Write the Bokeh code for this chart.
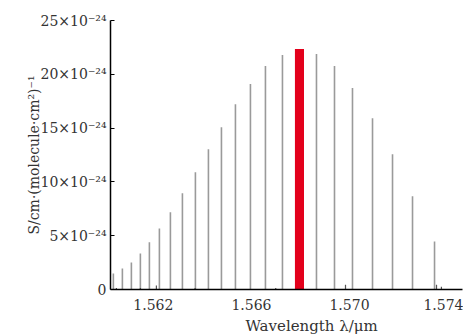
from bokeh.plotting import figure
from bokeh.models import Range1d, FixedTicker, NumeralTickFormatter, Title
from bokeh.embed import file_html
from bokeh.resources import INLINE

# Line positions (um) and intensities (x 1e-24 cm/molecule)
wavelength = [1.560367, 1.560735, 1.561102, 1.561469, 1.561837, 1.562245,
              1.562694, 1.563184, 1.563714, 1.564245, 1.564776, 1.565347,
              1.565959, 1.566571, 1.567265, 1.568653, 1.569388, 1.570122,
              1.570939, 1.571755, 1.572571, 1.573469]
intensity = [1.49, 1.96, 2.51, 3.35, 4.38, 5.68, 7.17, 8.94, 10.89, 13.04,
             15.08, 17.22, 19.09, 20.76, 21.79, 21.88, 20.76, 18.72, 15.92,
             12.57, 8.66, 4.47]
weak_wavelength = [1.560490, 1.561470, 1.562122, 1.563700, 1.566990, 1.569837, 1.573550, 1.573750]
weak_intensity = [0.15, 0.15, 0.38, 0.15, 0.15, 0.45, 0.45, 0.25]
selected_wavelength = [1.567959]
selected_intensity = [22.35]

y_ticks = [0, 5, 10, 15, 20, 25]
y_labels = ["0", "5×10⁻²⁴", "10×10⁻²⁴", "15×10⁻²⁴", "20×10⁻²⁴", "25×10⁻²⁴"]
x_ticks = [1.562, 1.566, 1.570, 1.574]

FONT = "DejaVu Serif"
TXT = "#333333"

p = figure(width=463, height=336, output_backend="svg", toolbar_location=None,
           x_range=Range1d(1.56025, 1.57461), y_range=Range1d(0, 25),
           min_border_left=110, min_border_right=1, min_border_top=20, min_border_bottom=0)
p.outline_line_color = None
p.xgrid.visible = False
p.ygrid.visible = False

p.segment(x0=wavelength, y0=[0] * len(wavelength), x1=wavelength, y1=intensity,
          line_color="#9a9a9a", line_width=1.6)
p.segment(x0=weak_wavelength, y0=[0] * len(weak_wavelength), x1=weak_wavelength, y1=weak_intensity,
          line_color="#555555", line_width=1.2)
p.vbar(x=selected_wavelength, top=selected_intensity, bottom=0, width=0.00037,
       fill_color="#e3001b", line_color=None)

# axes
p.yaxis.ticker = FixedTicker(ticks=y_ticks)
p.yaxis.major_label_overrides = {t: l for t, l in zip(y_ticks, y_labels)}
p.yaxis.major_tick_in = 4
p.yaxis.major_tick_out = 0
p.yaxis.minor_tick_line_color = None
p.yaxis.major_label_standoff = 4
p.yaxis.axis_line_width = 1.5
p.yaxis.axis_label = "S/cm·(molecule·cm²)⁻¹"
p.yaxis.axis_label_standoff = -4
p.yaxis.axis_label_text_font = FONT
p.yaxis.axis_label_text_font_style = "normal"
p.yaxis.axis_label_text_font_size = "14px"
p.yaxis.axis_label_text_color = TXT
p.yaxis.major_label_text_font = FONT
p.yaxis.major_label_text_font_size = "14px"
p.yaxis.major_label_text_color = TXT

p.xaxis.ticker = FixedTicker(ticks=x_ticks)
p.xaxis.formatter = NumeralTickFormatter(format="0.000")
p.xaxis.major_tick_in = 0
p.xaxis.major_tick_out = 0
p.xaxis.minor_tick_line_color = None
p.xaxis.major_label_standoff = 9
p.xaxis.axis_line_width = 1.5
p.xaxis.major_label_text_font = FONT
p.xaxis.major_label_text_font_size = "14px"
p.xaxis.major_label_text_color = TXT

xtitle = Title(text="Wavelength λ/μm", align="left", offset=135,
               text_font=FONT, text_font_size="15px", text_font_style="normal",
               text_color=TXT, standoff=4)
p.add_layout(xtitle, "below")

open("out.html", "w").write(file_html(p, INLINE))
